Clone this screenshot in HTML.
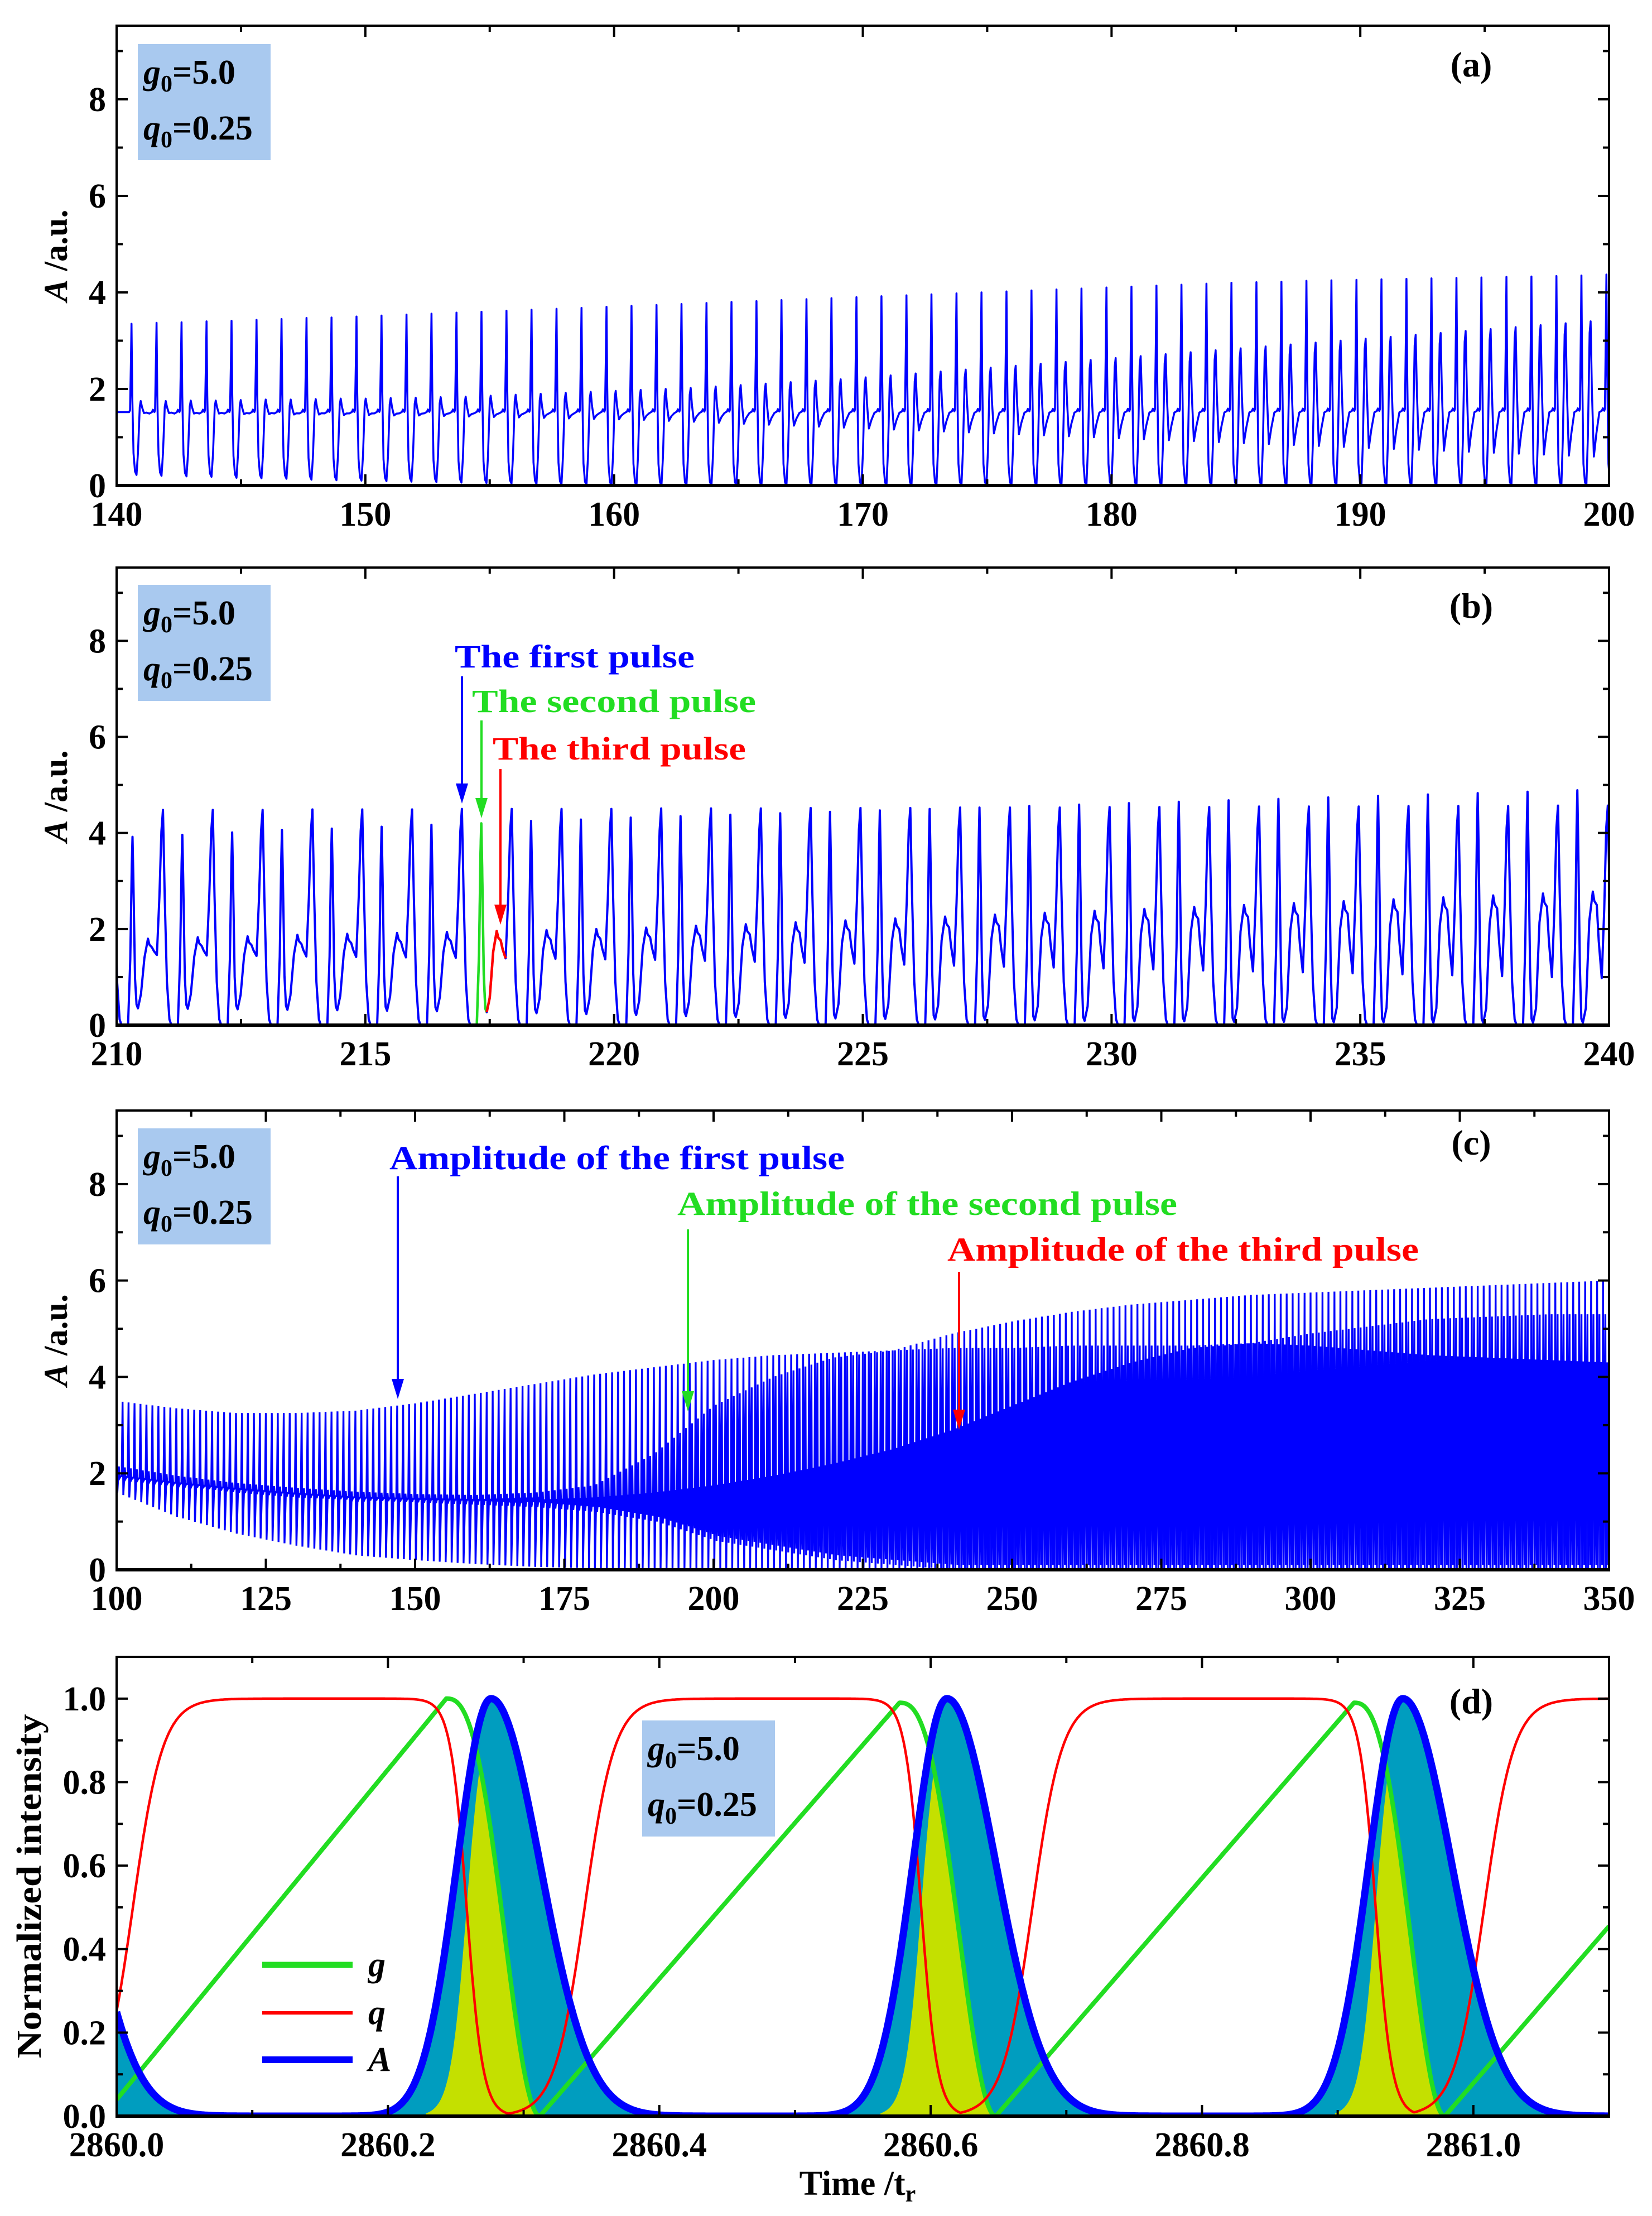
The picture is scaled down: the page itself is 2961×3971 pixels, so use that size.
<!DOCTYPE html>
<html><head><meta charset="utf-8"><style>
html,body{margin:0;padding:0;background:#fff}
svg{display:block;font-family:"Liberation Serif",serif;font-weight:bold}
</style></head><body>
<svg id="chart" xmlns="http://www.w3.org/2000/svg" width="2961" height="3971" viewBox="0 0 2961 3971">
<rect x="0" y="0" width="2961" height="3971" fill="#fff"/>
</svg>
<script>
// ---------- Panel (a) data: per-pulse values ----------
const aStart = 140.6, aPeriod = 1.005;
const aPeakAmp = [3.35,3.37,3.38,3.40,3.41,3.43,3.45,3.47,3.48,3.50,3.52,3.54,3.56,3.58,3.60,3.62,3.64,3.66,3.68,3.70,3.72,3.74,3.76,3.78,3.80,3.82,3.84,3.86,3.88,3.90,3.92,3.94,3.96,3.98,4.00,4.02,4.04,4.06,4.08,4.10,4.12,4.14,4.16,4.18,4.20,4.21,4.22,4.24,4.25,4.26,4.27,4.28,4.29,4.30,4.31,4.32,4.33,4.34,4.35,4.37];
const aSecondAmp = [1.75,1.75,1.76,1.76,1.77,1.78,1.78,1.79,1.80,1.80,1.81,1.82,1.83,1.84,1.86,1.88,1.90,1.92,1.94,1.96,1.98,2.00,2.02,2.05,2.08,2.11,2.14,2.17,2.20,2.24,2.28,2.32,2.36,2.40,2.44,2.48,2.52,2.56,2.60,2.64,2.68,2.72,2.76,2.80,2.84,2.88,2.92,2.96,3.00,3.04,3.08,3.12,3.16,3.20,3.24,3.28,3.32,3.36,3.40,3.42];
const aDipAmp = [1.50,1.50,1.49,1.49,1.48,1.48,1.47,1.47,1.46,1.46,1.45,1.45,1.44,1.43,1.42,1.41,1.40,1.39,1.38,1.37,1.36,1.34,1.32,1.30,1.28,1.26,1.24,1.22,1.20,1.18,1.16,1.14,1.12,1.10,1.08,1.06,1.04,1.02,1.00,0.98,0.96,0.94,0.92,0.90,0.88,0.86,0.84,0.82,0.80,0.78,0.76,0.74,0.72,0.70,0.68,0.66,0.64,0.62,0.60,0.58];
const aMinAmp = [0.22,0.20,0.19,0.18,0.16,0.15,0.14,0.12,0.11,0.10,0.09,0.08,0.07,0.06,0.05,0.04,0.03,0.02,0.01,0,0,0,0,0,0,0,0,0,0,0,0,0,0,0,0,0,0,0,0,0,0,0,0,0,0,0,0,0,0,0,0,0,0,0,0,0,0,0,0,0];
const aPlateau = [1.52,1.55];
const aXTicks = [140,150,160,170,180,190,200];
const yTicksA = [0,2,4,6,8];

// ---------- Panel (b) data ----------
const bStart = 209.93, bPeriod = 1.0015;
const bWideAmp = [4.48,4.48,4.48,4.48,4.49,4.49,4.49,4.50,4.50,4.50,4.50,4.51,4.51,4.51,4.52,4.52,4.52,4.53,4.53,4.53,4.54,4.54,4.54,4.55,4.55,4.55,4.56,4.56,4.56,4.57,4.57];
const bNarrowAmp = [3.92,3.96,4.01,4.06,4.09,4.13,4.17,4.20,4.25,4.28,4.32,4.35,4.38,4.41,4.44,4.47,4.50,4.53,4.56,4.59,4.62,4.65,4.68,4.71,4.74,4.77,4.80,4.83,4.86,4.89,4.92];
const bMinAmp = [0.35,0.34,0.33,0.32,0.31,0.30,0.29,0.27,0.25,0.23,0.21,0.19,0.17,0.15,0.14,0.13,0.12,0.11,0.10,0.09,0.08,0.08,0.07,0.07,0.06,0.06,0.05,0.05,0.05,0.05,0.05];
const bHumpAmp = [1.80,1.83,1.85,1.88,1.90,1.92,1.94,1.96,1.98,2.00,2.03,2.07,2.10,2.14,2.18,2.22,2.26,2.30,2.34,2.38,2.42,2.46,2.50,2.54,2.58,2.62,2.66,2.70,2.74,2.78,2.82];
const bDipAmp = [1.46,1.45,1.44,1.43,1.42,1.41,1.40,1.39,1.38,1.37,1.36,1.34,1.32,1.30,1.28,1.26,1.24,1.22,1.20,1.18,1.16,1.14,1.12,1.10,1.08,1.06,1.04,1.02,1.00,0.98,0.96];
const bHighlightPulse = 7;
const bXTicks = [210,215,220,225,230,235,240];

// ---------- Panel (c) data: envelopes sampled every 10 units ----------
const cTimes = [100,110,120,130,140,150,160,170,180,190,200,210,220,230,240,250,260,270,280,290,300,310,320,330,340,350];
const cFirstAmp = [3.5,3.35,3.25,3.25,3.3,3.45,3.65,3.85,4.05,4.2,4.35,4.45,4.5,4.55,4.9,5.15,5.35,5.5,5.6,5.7,5.75,5.8,5.85,5.9,5.95,6.0];
const cSecondAmp = [2.15,1.95,1.8,1.7,1.62,1.57,1.55,1.6,1.75,2.4,3.4,4.0,4.4,4.55,4.6,4.6,4.65,4.65,4.65,4.7,4.9,5.05,5.2,5.25,5.3,5.3];
const cThirdAmp = [1.95,1.8,1.68,1.58,1.5,1.47,1.45,1.45,1.5,1.6,1.75,1.95,2.2,2.5,2.9,3.4,3.9,4.3,4.6,4.7,4.65,4.55,4.45,4.4,4.35,4.3];
const cMinAfterFirst = [1.6,1.1,0.75,0.5,0.3,0.2,0.12,0.06,0.03,0,0,0,0,0,0,0,0,0,0,0,0,0,0,0,0,0];
const cMinAfterSecond = [1.9,1.75,1.6,1.5,1.45,1.4,1.35,1.3,1.2,1.0,0.6,0.4,0.2,0.1,0,0,0,0,0,0,0,0,0,0,0,0];
const cXTicks = [100,125,150,175,200,225,250,275,300,325,350];

// ---------- Panel (d) data ----------
const dPulsePeakTimes = [2859.94,2860.276,2860.612,2860.948];
const dPulsePeakValues = [1.0,1.0,1.0,1.0];
const dGainMinTimes = [2859.99,2860.312,2860.648,2860.979];
const dGainPeakTimes = [2860.243,2860.577,2860.912,2861.245];
const dGainPeakValues = [1.0,0.99,0.99,1.0];
const dLossRiseTimes = [2860.012,2860.345,2860.675,2861.008];
const dLossFallTimes = [2860.258,2860.593,2860.928,2861.4];
const dXTicks = [2860.0,2860.2,2860.4,2860.6,2860.8,2861.0];
const dYTicks = [0,0.2,0.4,0.6,0.8,1.0];

const NS = 'http://www.w3.org/2000/svg';
const svg = document.getElementById('chart');
function el(tag, attrs, parent){
  const e = document.createElementNS(NS, tag);
  for (const k in attrs) e.setAttribute(k, attrs[k]);
  (parent||svg).appendChild(e);
  return e;
}
function lin(d0,d1,p0,p1){ return v => p0 + (v-d0)*(p1-p0)/(d1-d0); }
function interp(ts, vs, t){
  if (t<=ts[0]) return vs[0];
  for (let i=1;i<ts.length;i++){ if (t<=ts[i]){ const u=(t-ts[i-1])/(ts[i]-ts[i-1]); return vs[i-1]+u*(vs[i]-vs[i-1]); } }
  return vs[vs.length-1];
}
function pathFrom(pts, sx, sy){
  return pts.map((p,i)=>(i?'L':'M')+sx(p[0]).toFixed(1)+' '+sy(p[1]).toFixed(1)).join('');
}

const L=209, R=2884;
function makePanel(id, T, B, x0, x1, y0, y1){
  const p = {id, T, B, L, R, x0, x1, y0, y1};
  p.sx = lin(x0, x1, L, R);
  p.sy = lin(y0, y1, B, T);
  p.g = el('g', {});
  
  
  const cp = el('clipPath', {id:'clip-'+id}, p.g);
  el('rect', {x:L, y:T, width:R-L, height:B-T}, cp);
  p.plot = el('g', {'clip-path':'url(#clip-'+id+')'}, p.g);
  
  
  return p;
}
function drawAxes(p, xTicks, xMinorStep, xFmt, yTicks, yMinorStep, yFmt){
  const g = el('g', {stroke:'#000', 'stroke-width':4, fill:'none'}, p.g);
  
  
  for (let v=p.x0; v<=p.x1+1e-9; v+=xMinorStep){
    const x=p.sx(v); const major = xTicks.some(t=>Math.abs(t-v)<1e-6); const len = major?20:11;
    const tb = el('line', {x1:x, y1:p.B, x2:x, y2:p.B-len}, g);
    
    
    const tt = el('line', {x1:x, y1:p.T, x2:x, y2:p.T+len}, g);
    
    
  }
  for (let v=p.y0; v<=p.y1+1e-9; v+=yMinorStep){
    const y=p.sy(v); const major = yTicks.some(t=>Math.abs(t-v)<1e-6); const len = major?20:11;
    const tl = el('line', {x1:p.L, y1:y, x2:p.L+len, y2:y}, g);
    
    
    const tr = el('line', {x1:p.R, y1:y, x2:p.R-len, y2:y}, g);
    
    
  }
  const fr = el('rect', {x:p.L, y:p.T, width:p.R-p.L, height:p.B-p.T}, g);
  
  
  const bl = el('line', {x1:p.L-2, y1:p.B, x2:p.R+2, y2:p.B, 'stroke-width':6}, g);
  
  
  xTicks.forEach(v=>{
    const t = el('text', {x:p.sx(v), y:p.B+72, 'font-size':62, 'text-anchor':'middle'}, p.g);
    t.textContent = xFmt(v);
    
    
  });
  yTicks.forEach(v=>{
    const t = el('text', {x:190, y:p.sy(v)+21, 'font-size':62, 'text-anchor':'end'}, p.g);
    t.textContent = yFmt(v);
    
    
  });
}
function infoBox(parent, x, y){
  const g = el('g', {}, parent);
  
  
  el('rect', {x:x, y:y, width:238, height:208, fill:'#a9c9ef'}, g);
  const t1 = el('text', {x:x+10, y:y+71, 'font-size':62}, g);
  t1.innerHTML = '<tspan font-style="italic">g</tspan><tspan font-size="42" dy="14">0</tspan><tspan dy="-14">=5.0</tspan>';
  
  
  const t2 = el('text', {x:x+10, y:y+171, 'font-size':62}, g);
  t2.innerHTML = '<tspan font-style="italic">q</tspan><tspan font-size="42" dy="14">0</tspan><tspan dy="-14">=0.25</tspan>';
  
  
}
function panelLabel(p, txt, y){
  const t = el('text', {x:2637, y:y, 'font-size':64, 'text-anchor':'middle'}, p.g);
  t.textContent = txt;
  
  
}
function yTitle(p){
  const cy = (p.T+p.B)/2;
  const t = el('text', {x:100, y:cy+20, 'font-size':60, 'text-anchor':'middle', transform:'rotate(-90 100 '+(cy)+')'}, p.g);
  t.innerHTML = '<tspan font-style="italic">A</tspan> /a.u.';
  
  
}
function arrow(parent, x, y1, y2, color, name){
  const g = el('g', {}, parent);
  
  
  el('line', {x1:x, y1:y1, x2:x, y2:y2-30, stroke:color, 'stroke-width':4}, g);
  el('polygon', {points:(x-11)+','+(y2-36)+' '+(x+11)+','+(y2-36)+' '+x+','+y2, fill:color}, g);
}
function annot(parent, txt, x, y, len, color, size, name){
  const t = el('text', {x:x, y:y, 'font-size':size, fill:color, textLength:len, lengthAdjust:'spacingAndGlyphs'}, parent);
  t.textContent = txt;
  
  
}
const fmt0 = v => String(v);
const fmt1 = v => v.toFixed(1);

// ================= Panel (a) =================
const pa = makePanel('a', 46, 870, 140, 200, 0, 9.526);
(function(){
  const pts = [[139.9, aPlateau[0]],[aStart-0.1, aPlateau[0]]];
  for (let i=0;i<aPeakAmp.length;i++){
    const t0 = aStart + aPeriod*i, P=aPeakAmp[i], S=aSecondAmp[i], D=aDipAmp[i], Z=aMinAmp[i];
    const H = aPlateau[0] + (aPlateau[1]-aPlateau[0])*i/(aPeakAmp.length-1);
    pts.push([t0-0.06,H+0.04],[t0-0.025,H+(P-H)*0.55],[t0,P],[t0+0.03,P*0.55],[t0+0.08,Z+0.45],[t0+0.14,Z+0.07],[t0+0.2,Z],
      [t0+0.26,Z+0.3*(S-Z)],[t0+0.33,S*0.93],[t0+0.37,S],[t0+0.42,(S+D)/2],[t0+0.5,D],[t0+0.6,(D+H)/2],[t0+0.72,H-0.03],[t0+0.82,H],[t0+0.86,H+0.05],[t0+0.92,H]);
  }
  const path = el('path', {d:pathFrom(pts, pa.sx, pa.sy), fill:'none', stroke:'#0000ff', 'stroke-width':3.5, 'stroke-linejoin':'round'}, pa.plot);
  
  
})();
drawAxes(pa, aXTicks, 5, fmt0, yTicksA, 1, fmt0);
infoBox(pa.g, 247, 79);
panelLabel(pa, '(a)', 137);
yTitle(pa);

// ================= Panel (b) =================
const pb = makePanel('b', 1017, 1837, 210, 240, 0, 9.526);
function bSeries(){
  const pts = [];
  for (let k=0;k<bWideAmp.length;k++){
    const t0 = bStart + bPeriod*k, W=bWideAmp[k], N=bNarrowAmp[k], M=bMinAmp[k], Hh=bHumpAmp[k], D=bDipAmp[k];
    pts.push([t0,W],[t0+0.035,W*0.6],[t0+0.08,0.9],[t0+0.13,0.12],[t0+0.17,0],[t0+0.3,0],[t0+0.345,N*0.35],[t0+0.375,N*0.85],[t0+0.39,N],
      [t0+0.405,N*0.8],[t0+0.44,N*0.25],[t0+0.47,M+0.08],[t0+0.5,M],[t0+0.56,M+0.3],[t0+0.63,Hh*0.78],[t0+0.7,Hh],[t0+0.73,Hh*0.93],
      [t0+0.78,Hh*0.9],[t0+0.82,(Hh*0.9+D)/2],[t0+0.88,D],[t0+0.93,D+(W-D)*0.4],[t0+0.97,W*0.9]);
  }
  return pts;
}
(function(){
  const pts = bSeries();
  const path = el('path', {d:pathFrom(pts, pb.sx, pb.sy), fill:'none', stroke:'#0000ff', 'stroke-width':4, 'stroke-linejoin':'round'}, pb.plot);
  
  
  const t0 = bStart + bPeriod*bHighlightPulse;
  const gp = pts.filter(p=>p[0]>=t0+0.26 && p[0]<=t0+0.5);
  const rp = pts.filter(p=>p[0]>=t0+0.5 && p[0]<=t0+0.88);
  const gpath = el('path', {d:pathFrom(gp, pb.sx, pb.sy), fill:'none', stroke:'#22dd22', 'stroke-width':4.5, 'stroke-linejoin':'round'}, pb.plot);
  
  
  const rpath = el('path', {d:pathFrom(rp, pb.sx, pb.sy), fill:'none', stroke:'#ff0000', 'stroke-width':4.5, 'stroke-linejoin':'round'}, pb.plot);
  
  
})();
drawAxes(pb, bXTicks, 2.5, fmt0, yTicksA, 1, fmt0);
infoBox(pb.g, 247, 1048);
panelLabel(pb, '(b)', 1107);
yTitle(pb);
annot(pb.g, 'The first pulse', 815, 1196, 430, '#0000ff', 58, 'first-pulse-annotation');
annot(pb.g, 'The second pulse', 846, 1276, 509, '#22dd22', 58, 'second-pulse-annotation');
annot(pb.g, 'The third pulse', 883, 1361, 454, '#ff0000', 58, 'third-pulse-annotation');
arrow(pb.g, 828, 1212, 1440, '#0000ff', 'first-pulse-arrow');
arrow(pb.g, 863, 1291, 1466, '#22dd22', 'second-pulse-arrow');
arrow(pb.g, 897, 1378, 1657, '#ff0000', 'third-pulse-arrow');

// ================= Panel (c) =================
const pc = makePanel('c', 1990, 2813, 100, 350, 0, 9.526);
(function(){
  const pts = [];
  for (let t0=100; t0<=350; t0+=1){
    const P1=interp(cTimes,cFirstAmp,t0), P2=interp(cTimes,cSecondAmp,t0+0.38), P3=interp(cTimes,cThirdAmp,t0+0.68);
    const m1=interp(cTimes,cMinAfterFirst,t0), m2=interp(cTimes,cMinAfterSecond,t0);
    pts.push([t0,P1],[t0+0.12,m1],[t0+0.38,P2],[t0+0.5,m2],[t0+0.68,P3],[t0+0.85,Math.min(P3,m2+0.1)]);
  }
  const path = el('path', {d:pathFrom(pts, pc.sx, pc.sy), fill:'none', stroke:'#0000ff', 'stroke-width':3.3}, pc.plot);
  
  
})();
drawAxes(pc, cXTicks, 12.5, fmt0, yTicksA, 1, fmt0);
infoBox(pc.g, 247, 2022);
panelLabel(pc, '(c)', 2069);
yTitle(pc);
annot(pc.g, 'Amplitude of the first pulse', 698, 2095, 816, '#0000ff', 60, 'first-amplitude-annotation');
annot(pc.g, 'Amplitude of the second pulse', 1214, 2177, 896, '#22dd22', 60, 'second-amplitude-annotation');
annot(pc.g, 'Amplitude of the third pulse', 1698, 2259, 845, '#ff0000', 60, 'third-amplitude-annotation');
arrow(pc.g, 713, 2108, 2507, '#0000ff', 'first-amplitude-arrow');
arrow(pc.g, 1233, 2203, 2529, '#22dd22', 'second-amplitude-arrow');
arrow(pc.g, 1719, 2279, 2562, '#ff0000', 'third-amplitude-arrow');

// ================= Panel (d) =================
const pd = makePanel('d', 2969, 3792, 2860.0, 2861.1, 0, 1.1);
function Aval(t){
  let v=0;
  for (let k=0;k<dPulsePeakTimes.length;k++){
    const d=t-dPulsePeakTimes[k], s = d<0?0.025:0.036;
    v = Math.max(v, dPulsePeakValues[k]*Math.exp(-d*d/(2*s*s)));
  }
  return v;
}
function Gval(t){
  for (let k=0;k<dGainPeakTimes.length;k++){
    const tm=dGainMinTimes[k], tp=dGainPeakTimes[k], gp=dGainPeakValues[k];
    if (t>=tm && t<=tp) return gp*(t-tm)/(tp-tm);
    const tn = dGainMinTimes[k+1];
    if (tn!==undefined && t>tp && t<tn){ const u=Math.pow((t-tp)/(tn-tp),1.3); return gp*(0.5+0.5*Math.cos(Math.PI*u)); }
  }
  return 0;
}
const logi = x => 1/(1+Math.exp(-x));
function Qval(t){
  let v=0;
  for (let k=0;k<dLossRiseTimes.length;k++){
    v = Math.max(v, logi((t-dLossRiseTimes[k])/0.011)*(1-logi((t-dLossFallTimes[k])/0.006)));
  }
  return v;
}
(function(){
  const step=0.0005, As=[], Gs=[], Qs=[];
  for (let t=2860.0; t<=2861.1+1e-9; t+=step){ As.push([t,Aval(t)]); Gs.push([t,Gval(t)]); Qs.push([t,Qval(t)]); }
  const fillPts = [[2860.0,0]].concat(As).concat([[2861.1,0]]);
  const tf = el('path', {d:pathFrom(fillPts, pd.sx, pd.sy)+'Z', fill:'#009dbf', stroke:'none'}, pd.plot);
  
  
  for (let k=1;k<dGainMinTimes.length;k++){
    const f=dLossFallTimes[k-1], tm=dGainMinTimes[k];
    const pts=[[f-0.03,0]];
    for (let t=f-0.03;t<=tm+1e-9;t+=step) pts.push([t, Math.min(Gval(t), 1-Qval(t))]);
    pts.push([tm,0]);
    const y = el('path', {d:pathFrom(pts, pd.sx, pd.sy)+'Z', fill:'#c4e000', stroke:'none'}, pd.plot);
    
    
  }
  const gl = el('path', {d:pathFrom(Gs, pd.sx, pd.sy), fill:'none', stroke:'#22dd22', 'stroke-width':8, 'stroke-linejoin':'round'}, pd.plot);
  
  
  const ql = el('path', {d:pathFrom(Qs, pd.sx, pd.sy), fill:'none', stroke:'#ff0000', 'stroke-width':4.5, 'stroke-linejoin':'round'}, pd.plot);
  
  
  const al = el('path', {d:pathFrom(As, pd.sx, pd.sy), fill:'none', stroke:'#0000ff', 'stroke-width':13, 'stroke-linejoin':'round'}, pd.plot);
  
  
})();
drawAxes(pd, dXTicks, 0.1, fmt1, dYTicks, 0.1, fmt1);
infoBox(pd.g, 1151, 3083);
panelLabel(pd, '(d)', 3070);
(function(){
  const lg = el('g', {}, pd.g);
  
  
  const items = [['g','#22dd22',11,3521],['q','#ff0000',6,3607],['A','#0000ff',12,3691]];
  items.forEach(it=>{
    const ln = el('line', {x1:470, y1:it[3], x2:632, y2:it[3], stroke:it[1], 'stroke-width':it[2]}, lg);
    
    
    const tx = el('text', {x:660, y:it[3]+20, 'font-size':62, 'font-style':'italic'}, lg);
    tx.textContent = it[0];
    
    
  });
  const yt = el('text', {x:53, y:3380+20, 'font-size':62, 'text-anchor':'middle', textLength:617, lengthAdjust:'spacingAndGlyphs', transform:'rotate(-90 53 3380)'}, pd.g);
  yt.textContent = 'Normalized intensity';
  
  
  const xt = el('text', {x:1537, y:3933, 'font-size':62, 'text-anchor':'middle'}, pd.g);
  xt.innerHTML = 'Time /t<tspan font-size="42" dy="12">r</tspan>';
  
  
})();
</script>
</body></html>
